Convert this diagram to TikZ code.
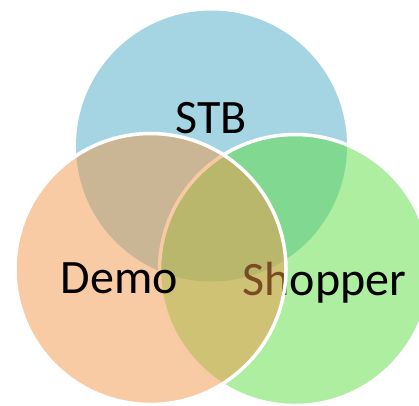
\documentclass[tikz,border=0pt]{standalone}
\usepackage{fontspec}
\setmainfont{Carlito}
\definecolor{cblue}{RGB}{75,172,198}
\definecolor{cgreen}{RGB}{93,221,65}
\definecolor{corange}{RGB}{241,151,73}
\begin{document}
\begin{tikzpicture}[x=1pt,y=-1pt,
  venn/.style={circle,minimum size=271pt,inner sep=0pt,outer sep=0pt},
  lbl/.style={font=\fontsize{48}{52}\selectfont,text=black,inner sep=0pt,anchor=base}]
\useasboundingbox (0,0) rectangle (419,405);
\node[venn,fill=cblue,fill opacity=0.5] (stb) at (211.5,146) {};
\node[venn,fill=cgreen,fill opacity=0.5,draw=white,line width=3.5pt] (shop) at (295,270) {};
\node[lbl] (shoptxt) at (324.5,295) {Shopper};
\node[venn,fill=corange,fill opacity=0.5,draw=white,line width=3.5pt] (demo) at (150.5,269) {};
\node[lbl] (demotxt) at (119.5,293) {Demo};
\node[lbl] (stbtxt) at (211,133) {STB};
\end{tikzpicture}
\end{document}
